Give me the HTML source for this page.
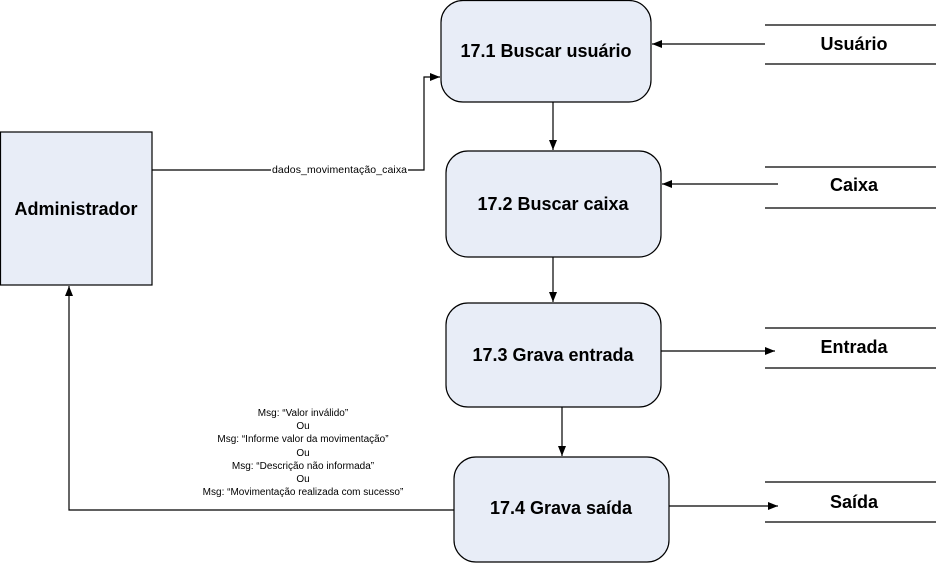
<!DOCTYPE html>
<html><head><meta charset="utf-8"><style>
html,body{margin:0;padding:0;background:#fff;}
svg{display:block;font-family:"Liberation Sans",Arial,sans-serif;}
</style></head><body>
<svg width="936" height="563" viewBox="0 0 936 563" xmlns="http://www.w3.org/2000/svg">
<defs><marker id="a" markerWidth="10" markerHeight="8" refX="10" refY="4" orient="auto" markerUnits="userSpaceOnUse"><path d="M0,0 L10,4 L0,8 z" fill="#000"/></marker></defs>
<g fill="#e8edf7" stroke="#000" stroke-width="1.2">
<rect x="441" y="0.5" width="210" height="101.5" rx="22"/>
<rect x="446" y="151" width="215" height="106" rx="22"/>
<rect x="446" y="303" width="215" height="104" rx="22"/>
<rect x="454" y="457" width="215" height="105" rx="22"/>
<rect x="0.5" y="132" width="151.5" height="153"/>
</g>
<g font-weight="bold" font-size="18" text-anchor="middle" fill="#000">
<text x="546" y="57">17.1 Buscar usuário</text>
<text x="553" y="210">17.2 Buscar caixa</text>
<text x="553" y="361">17.3 Grava entrada</text>
<text x="561" y="514">17.4 Grava saída</text>
<text x="76" y="215">Administrador</text>
<text x="854" y="50">Usuário</text>
<text x="854" y="191">Caixa</text>
<text x="854" y="353">Entrada</text>
<text x="854" y="508">Saída</text>
</g>
<g stroke="#000" stroke-width="1.2" fill="none">
<line x1="765" y1="25" x2="936" y2="25"/><line x1="765" y1="64" x2="936" y2="64"/>
<line x1="765" y1="167" x2="936" y2="167"/><line x1="765" y1="208" x2="936" y2="208"/>
<line x1="765" y1="328" x2="936" y2="328"/><line x1="765" y1="368" x2="936" y2="368"/>
<line x1="765" y1="482" x2="936" y2="482"/><line x1="765" y1="522" x2="936" y2="522"/>
<line x1="765" y1="44" x2="652" y2="44" marker-end="url(#a)"/>
<line x1="778" y1="184" x2="662" y2="184" marker-end="url(#a)"/>
<line x1="661" y1="351" x2="775" y2="351" marker-end="url(#a)"/>
<line x1="669" y1="506" x2="778" y2="506" marker-end="url(#a)"/>
<polyline points="152,170 424,170 424,77 440,77" marker-end="url(#a)"/>
<polyline points="553,102 553,150" marker-end="url(#a)"/>
<polyline points="553,257 553,302" marker-end="url(#a)"/>
<polyline points="562,407 562,456" marker-end="url(#a)"/>
<polyline points="454,510 69,510 69,286" marker-end="url(#a)"/>
</g>
<rect x="271" y="163" width="137" height="13" fill="#fff"/>
<text x="339.5" y="173" font-size="10.5" text-anchor="middle" textLength="135">dados_movimentação_caixa</text>
<g font-size="10" text-anchor="middle" fill="#000">
<text x="303" y="416">Msg: “Valor inválido”</text>
<text x="303" y="429">Ou</text>
<text x="303" y="442">Msg: “Informe valor da movimentação”</text>
<text x="303" y="456">Ou</text>
<text x="303" y="469">Msg: “Descrição não informada”</text>
<text x="303" y="482">Ou</text>
<text x="303" y="495">Msg: “Movimentação realizada com sucesso”</text>
</g>
</svg>
</body></html>
